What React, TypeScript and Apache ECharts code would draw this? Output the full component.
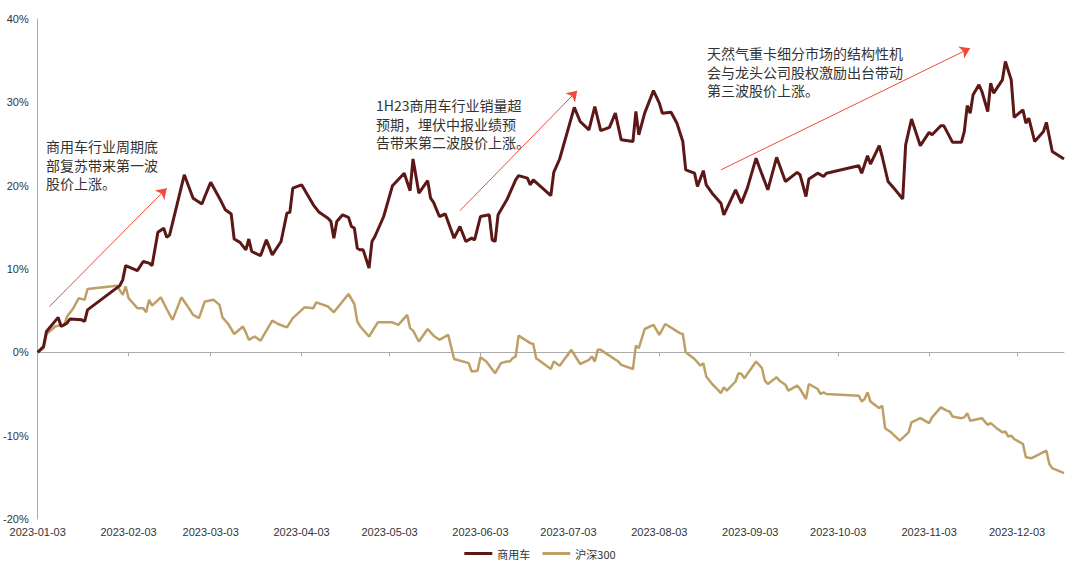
import React, { useEffect, useRef } from "react";
import * as echarts from "echarts";

// 商用车 (commercial vehicle index) cumulative return, %
const carDates = [
  "2023-01-03", "2023-01-05", "2023-01-06", "2023-01-10", "2023-01-11", "2023-01-13", "2023-01-14",
  "2023-01-18", "2023-01-19", "2023-01-20", "2023-01-31", "2023-02-01", "2023-02-02", "2023-02-06",
  "2023-02-08", "2023-02-10", "2023-02-11", "2023-02-13", "2023-02-15", "2023-02-16", "2023-02-17",
  "2023-02-22", "2023-02-25", "2023-02-28", "2023-03-01", "2023-03-03", "2023-03-06", "2023-03-08",
  "2023-03-10", "2023-03-11", "2023-03-13", "2023-03-15", "2023-03-16", "2023-03-17", "2023-03-20",
  "2023-03-22", "2023-03-24", "2023-03-27", "2023-03-29", "2023-03-30", "2023-03-31", "2023-04-03",
  "2023-04-07", "2023-04-09", "2023-04-12", "2023-04-13", "2023-04-14", "2023-04-15", "2023-04-17",
  "2023-04-19", "2023-04-20", "2023-04-21", "2023-04-22", "2023-04-23", "2023-04-24", "2023-04-26",
  "2023-04-27", "2023-04-28", "2023-05-01", "2023-05-04", "2023-05-08", "2023-05-10", "2023-05-11",
  "2023-05-13", "2023-05-16", "2023-05-17", "2023-05-18", "2023-05-20", "2023-05-22", "2023-05-25",
  "2023-05-27", "2023-05-29", "2023-05-31", "2023-06-01", "2023-06-03", "2023-06-06", "2023-06-07",
  "2023-06-08", "2023-06-09", "2023-06-12", "2023-06-15", "2023-06-16", "2023-06-19", "2023-06-20",
  "2023-06-21", "2023-06-27", "2023-06-28", "2023-06-30", "2023-07-05", "2023-07-07", "2023-07-10",
  "2023-07-12", "2023-07-14", "2023-07-17", "2023-07-19", "2023-07-21", "2023-07-25", "2023-07-26",
  "2023-07-27", "2023-07-29", "2023-08-01", "2023-08-03", "2023-08-04", "2023-08-07", "2023-08-09",
  "2023-08-11", "2023-08-12", "2023-08-15", "2023-08-16", "2023-08-18", "2023-08-19", "2023-08-21",
  "2023-08-24", "2023-08-25", "2023-08-29", "2023-08-31", "2023-09-02", "2023-09-05", "2023-09-06",
  "2023-09-09", "2023-09-12", "2023-09-15", "2023-09-19", "2023-09-20", "2023-09-22", "2023-09-23",
  "2023-09-26", "2023-09-28", "2023-09-29", "2023-10-10", "2023-10-11", "2023-10-13", "2023-10-14",
  "2023-10-17", "2023-10-18", "2023-10-20", "2023-10-22", "2023-10-25", "2023-10-26", "2023-10-28",
  "2023-10-31", "2023-11-03", "2023-11-04", "2023-11-07", "2023-11-08", "2023-11-11", "2023-11-14",
  "2023-11-15", "2023-11-16", "2023-11-17", "2023-11-18", "2023-11-20", "2023-11-21", "2023-11-23",
  "2023-11-24", "2023-11-25", "2023-11-28", "2023-11-29", "2023-12-01", "2023-12-02", "2023-12-05",
  "2023-12-06", "2023-12-07", "2023-12-09", "2023-12-12", "2023-12-13", "2023-12-15", "2023-12-19",
];
const carValues = [
  0, 0.7, 2.5, 4.2, 3.1, 3.5, 4.0,
  3.9, 3.7, 5.1, 8.0, 8.7, 10.4, 9.8,
  10.9, 10.7, 10.4, 14.4, 14.9, 13.8, 14.1,
  21.3, 18.5, 17.8, 18.7, 20.4, 18.5, 17.1,
  16.6, 13.6, 13.2, 12.3, 13.6, 12.1, 11.6,
  13.5, 11.7, 13.3, 16.7, 16.8, 19.7, 20.1,
  17.7, 16.8, 16.1, 15.7, 13.7, 15.7, 16.5,
  16.2, 15.1, 14.9, 12.5, 12.3, 12.3, 10.1,
  13.3, 13.9, 16.3, 20.0, 21.5, 19.4, 23.2,
  19.1, 20.6, 18.5, 18.0, 16.3, 16.6, 13.7,
  15.1, 13.3, 13.7, 13.5, 16.3, 16.5, 13.5,
  13.3, 16.5, 18.3, 20.7, 21.2, 20.9, 20.1,
  20.7, 18.8, 21.6, 23.2, 29.4, 27.7, 26.7,
  29.5, 26.6, 27.0, 28.7, 25.5, 25.3, 28.9,
  26.1, 28.7, 31.4, 29.9, 28.7, 28.8, 27.5,
  25.3, 21.9, 21.5, 19.9, 21.8, 20.1, 19.1,
  17.9, 16.5, 19.5, 17.9, 19.7, 23.3, 22.3,
  19.5, 23.4, 20.5, 21.6, 21.3, 18.7, 20.8,
  21.5, 21.1, 21.5, 22.4, 21.5, 23.6, 22.6,
  24.8, 23.5, 20.5, 19.7, 18.4, 24.9, 28.0,
  24.8, 26.4, 26.1, 27.2, 27.2, 25.2, 25.2,
  26.5, 29.6, 28.7, 30.9, 32.1, 31.3, 28.9,
  32.3, 31.1, 32.7, 34.9, 32.7, 28.2, 29.1,
  27.5, 28.1, 25.3, 26.5, 27.6, 24.1, 23.2,
];

// 沪深300 cumulative return, %
const hsDates = [
  "2023-01-03", "2023-01-05", "2023-01-06", "2023-01-09", "2023-01-11", "2023-01-12", "2023-01-13",
  "2023-01-15", "2023-01-17", "2023-01-19", "2023-01-20", "2023-01-30", "2023-02-01", "2023-02-02",
  "2023-02-03", "2023-02-06", "2023-02-08", "2023-02-09", "2023-02-10", "2023-02-11", "2023-02-14",
  "2023-02-16", "2023-02-18", "2023-02-21", "2023-02-23", "2023-02-25", "2023-02-27", "2023-03-01",
  "2023-03-04", "2023-03-06", "2023-03-07", "2023-03-09", "2023-03-11", "2023-03-14", "2023-03-15",
  "2023-03-16", "2023-03-18", "2023-03-20", "2023-03-24", "2023-03-26", "2023-03-29", "2023-03-31",
  "2023-04-04", "2023-04-07", "2023-04-08", "2023-04-12", "2023-04-14", "2023-04-19", "2023-04-21",
  "2023-04-22", "2023-04-23", "2023-04-26", "2023-04-29", "2023-05-04", "2023-05-06", "2023-05-09",
  "2023-05-10", "2023-05-11", "2023-05-13", "2023-05-16", "2023-05-18", "2023-05-20", "2023-05-23",
  "2023-05-25", "2023-05-30", "2023-05-31", "2023-06-02", "2023-06-03", "2023-06-05", "2023-06-08",
  "2023-06-10", "2023-06-12", "2023-06-13", "2023-06-14", "2023-06-15", "2023-06-16", "2023-06-20",
  "2023-06-21", "2023-06-22", "2023-06-27", "2023-06-28", "2023-06-30", "2023-07-04", "2023-07-07",
  "2023-07-10", "2023-07-11", "2023-07-12", "2023-07-13", "2023-07-14", "2023-07-20", "2023-07-21",
  "2023-07-25", "2023-07-26", "2023-07-27", "2023-07-29", "2023-08-01", "2023-08-03", "2023-08-05",
  "2023-08-10", "2023-08-11", "2023-08-12", "2023-08-15", "2023-08-17", "2023-08-18", "2023-08-19",
  "2023-08-21", "2023-08-23", "2023-08-24", "2023-08-25", "2023-08-26", "2023-08-29", "2023-08-30",
  "2023-08-31", "2023-09-01", "2023-09-05", "2023-09-07", "2023-09-08", "2023-09-09", "2023-09-12",
  "2023-09-13", "2023-09-15", "2023-09-16", "2023-09-19", "2023-09-20", "2023-09-22", "2023-09-23",
  "2023-09-26", "2023-09-27", "2023-09-28", "2023-09-29", "2023-10-10", "2023-10-11", "2023-10-12",
  "2023-10-13", "2023-10-14", "2023-10-17", "2023-10-18", "2023-10-19", "2023-10-21", "2023-10-24",
  "2023-10-27", "2023-10-28", "2023-10-31", "2023-11-03", "2023-11-04", "2023-11-07", "2023-11-09",
  "2023-11-10", "2023-11-11", "2023-11-14", "2023-11-15", "2023-11-16", "2023-11-17", "2023-11-21",
  "2023-11-23", "2023-11-24", "2023-11-26", "2023-11-28", "2023-11-29", "2023-11-30", "2023-12-01",
  "2023-12-02", "2023-12-05", "2023-12-06", "2023-12-08", "2023-12-13", "2023-12-14", "2023-12-15",
  "2023-12-19",
];
const hsValues = [
  0, 0.5, 2.2, 3.1, 3.3, 3.2, 4.3,
  5.2, 6.5, 6.3, 7.6, 8.0, 6.9, 7.9,
  6.5, 5.3, 5.3, 4.8, 6.3, 5.6, 6.6,
  5.2, 3.9, 6.6, 5.6, 4.5, 4.1, 6.1,
  6.3, 5.7, 4.2, 3.4, 2.2, 3.1, 2.4,
  1.5, 1.9, 1.4, 3.8, 3.4, 3.0, 4.1,
  5.4, 5.3, 6.0, 5.5, 4.8, 7.0, 5.8,
  3.7, 3.1, 1.9, 3.6, 3.6, 3.3, 4.5,
  2.9, 2.6, 1.3, 2.8, 2.0, 1.5, 2.1,
  -0.8, -1.3, -2.3, -2.2, -0.6, -1.1, -2.5,
  -1.3, -1.1, -1.1, -0.7, -0.5, 2.0, 1.1,
  1.0, -0.7, -2.0, -1.1, -1.6, 0.3, -1.4,
  -0.9, -0.5, -1.1, 0.3, 0.3, -1.1, -1.5,
  -2.0, 0.8, 0.5, 2.8, 3.3, 2.1, 3.4,
  2.3, 2.2, 0.0, -0.8, -1.6, -1.3, -2.9,
  -3.8, -4.5, -4.9, -4.2, -4.6, -3.5, -2.5,
  -2.6, -3.1, -1.1, -1.9, -3.4, -3.8, -3.0,
  -3.4, -3.9, -4.6, -4.0, -4.4, -5.6, -3.8,
  -4.4, -5.0, -4.8, -5.0, -5.2, -5.9, -5.6,
  -4.8, -5.9, -6.7, -6.4, -9.1, -9.6, -10.6,
  -9.6, -8.4, -7.9, -8.5, -7.8, -6.6, -7.0,
  -7.1, -7.7, -7.9, -7.8, -7.3, -8.2, -7.9,
  -8.7, -8.5, -9.1, -9.6, -9.5, -10.1, -10.0,
  -10.4, -11.0, -12.6, -12.7, -11.8, -13.4, -13.9,
  -14.5,
];

const tickDates = [
  "2023-01-03", "2023-02-03", "2023-03-03", "2023-04-03", "2023-05-03", "2023-06-03",
  "2023-07-03", "2023-08-03", "2023-09-03", "2023-10-03", "2023-11-03", "2023-12-03",
];
const axisStart = "2023-01-03";
const axisEnd = "2023-12-19";
const seriesNames = ["商用车", "沪深300"];

const notes = [
  "商用车行业周期底\n部复苏带来第一波\n股价上涨。",
  "1H23商用车行业销量超\n预期，埋伏中报业绩预\n告带来第二波股价上涨。",
  "天然气重卡细分市场的结构性机\n会与龙头公司股权激励出台带动\n第三波股价上涨。",
];
// arrow start/end in data coordinates [date, %]
const arrowStarts: [string, number][] = [["2023-01-07", 5.5], ["2023-05-27", 17.0], ["2023-08-24", 21.9]];
const arrowEnds: [string, number][] = [["2023-02-16", 19.7], ["2023-07-06", 31.4], ["2023-11-17", 36.5]];

function ts(s: string): number {
  const [y, m, d] = s.split("-").map(Number);
  return Date.UTC(y, m - 1, d);
}
function pad(n: number) {
  return n < 10 ? "0" + n : "" + n;
}
function fmtDate(v: number) {
  const d = new Date(v);
  return `${d.getUTCFullYear()}-${pad(d.getUTCMonth() + 1)}-${pad(d.getUTCDate())}`;
}

const FONT = "'Liberation Sans', Arial, 'Noto Sans CJK SC', sans-serif";
const CJK = "'Noto Sans CJK SC', 'Liberation Sans', sans-serif";

export default function App() {
  const ref = useRef<HTMLDivElement>(null);
  useEffect(() => {
    if (!ref.current) return;
    const chart = echarts.init(ref.current, undefined, { renderer: "svg" });
    const tickVals = tickDates.map(ts);
    const carData = carDates.map((d, i) => [ts(d), carValues[i]]);
    const hsData = hsDates.map((d, i) => [ts(d), hsValues[i]]);
    const arrows = arrowStarts.map((s, i) => [
      { coord: [ts(s[0]), s[1]] },
      { coord: [ts(arrowEnds[i][0]), arrowEnds[i][1]] },
    ]);
    const noteTops = [137, 96, 44];
    const noteLefts = [46, 376, 707];

    chart.setOption({
      animation: false,
      textStyle: { fontFamily: FONT },
      grid: { left: 37, right: 16, top: 19, bottom: 55, containLabel: false },
      legend: {
        bottom: 10,
        left: "center",
        icon: "rect",
        itemWidth: 28,
        itemHeight: 3,
        itemGap: 12,
        textStyle: { fontSize: 11, color: "#333", fontFamily: CJK },
        data: seriesNames,
      },
      xAxis: [
        {
          type: "value",
          position: "top",
          min: ts(axisStart),
          max: ts(axisEnd),
          axisLine: { show: true, onZero: true, lineStyle: { color: "#aaaaaa", width: 1 } },
          axisTick: { show: true, inside: true, length: 4, customValues: tickVals, lineStyle: { color: "#aaaaaa" } },
          axisLabel: { show: false },
          splitLine: { show: false },
        },
        {
          type: "value",
          position: "bottom",
          min: ts(axisStart),
          max: ts(axisEnd),
          axisLine: { show: false, onZero: false },
          axisTick: { show: false },
          splitLine: { show: false },
          axisLabel: {
            show: true,
            customValues: tickVals,
            formatter: (v: number) => fmtDate(v),
            fontSize: 11,
            color: "#333",
            margin: 7,
            hideOverlap: false,
          },
        },
      ],
      yAxis: {
        type: "value",
        min: -20,
        max: 40,
        interval: 10,
        axisLine: { show: true, onZero: false, lineStyle: { color: "#aaaaaa", width: 1 } },
        axisTick: { show: false },
        splitLine: { show: false },
        axisLabel: { formatter: (v: number) => `${v}%`, fontSize: 11, color: "#333", margin: 9 },
      },
      series: [
        {
          name: seriesNames[0],
          type: "line",
          xAxisIndex: 0,
          data: carData,
          showSymbol: false,
          symbol: "none",
          lineStyle: { color: "#5c1717", width: 3 },
          itemStyle: { color: "#5c1717" },
          z: 3,
          markLine: {
            silent: true,
            symbol: ["none", "arrow"],
            symbolSize: 10,
            label: { show: false },
            lineStyle: { color: "#f04a3c", width: 1, type: "solid" },
            data: arrows,
          },
        },
        {
          name: seriesNames[1],
          type: "line",
          xAxisIndex: 0,
          data: hsData,
          showSymbol: false,
          symbol: "none",
          lineStyle: { color: "#bea067", width: 2.5 },
          itemStyle: { color: "#bea067" },
          z: 2,
        },
      ],
      graphic: notes.map((t, i) => ({
        type: "text",
        left: noteLefts[i],
        top: noteTops[i],
        silent: true,
        style: {
          text: t,
          fill: "#333",
          font: `14px ${CJK}`,
          lineHeight: 18.5,
        },
      })),
    });
    return () => chart.dispose();
  }, []);
  return <div ref={ref} style={{ width: 1080, height: 574, position: "absolute", left: 0, top: 0 }} />;
}
